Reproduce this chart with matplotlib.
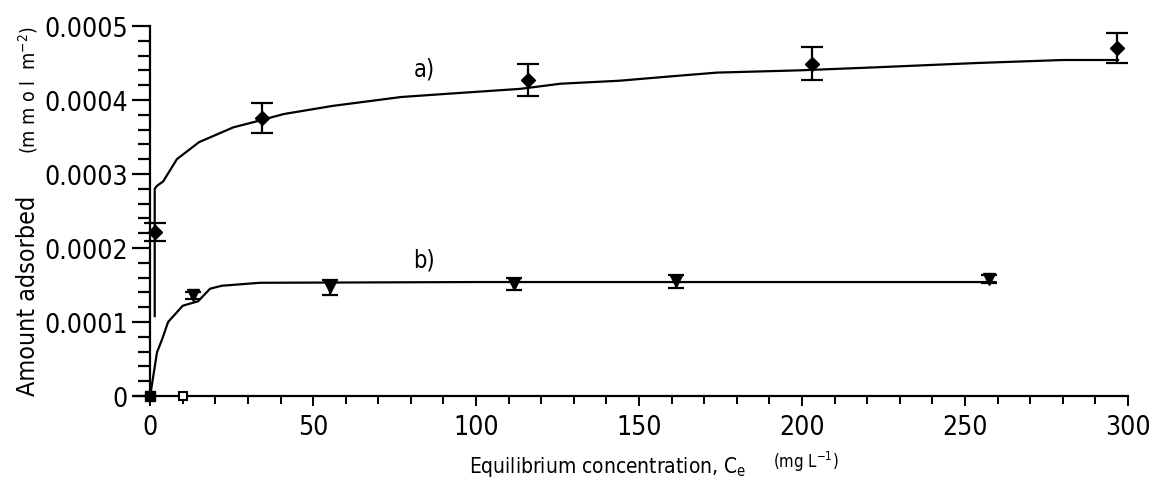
import matplotlib
matplotlib.use('Agg')
import matplotlib.pyplot as plt
from matplotlib.ticker import MultipleLocator, FixedLocator

# narrow face if the system has one, else plain sans
plt.rcParams['font.family'] = ['DejaVu Sans', 'Liberation Sans']
plt.rcParams['font.stretch'] = 'condensed'
plt.rcParams['mathtext.fontset'] = 'custom'
plt.rcParams['mathtext.rm'] = 'DejaVu Sans:stretch=condensed'

# measured points, series a)
a_c = [1.5, 34.4, 116, 203, 296.6]
a_q = [0.000222, 0.000376, 0.000427, 0.000449, 0.000470]
a_err = [0.000012, 0.000020, 0.000022, 0.000022, 0.000020]

# measured points, series b)
b_c = [13.2, 55.2, 111.7, 161.4, 257.3]
b_q = [0.000136, 0.000147, 0.000151, 0.000155, 0.000158]
b_err = [0.000005, 0.000010, 0.000008, 0.000009, 0.000005]

# fitted curves
a_fit_c = [1.4, 1.4, 2.1, 4, 8.2, 15, 25.5, 31.7, 41, 56, 77, 90, 113.5, 126, 144, 160, 174, 199, 222, 254, 280, 297]
a_fit_q = [0.000108, 0.000280, 0.000284, 0.000290, 0.000320, 0.000343, 0.000363, 0.000370, 0.000381,
           0.000392, 0.000404, 0.000408, 0.000415, 0.000422, 0.000426, 0.000432, 0.000437, 0.000440,
           0.000444, 0.000450, 0.000454, 0.000454]
b_fit_c = [0, 2.1, 3.7, 5.5, 10, 14.7, 18.4, 22, 33.7, 100, 180, 259.4]
b_fit_q = [0, 0.000059, 0.000077, 0.000100, 0.000122, 0.000128, 0.000145, 0.000149, 0.000153,
           0.000154, 0.000154, 0.000154]

# extra points on the baseline
origin_c, origin_q = [0], [0]
open_c, open_q = [10], [0]

yticks = [0, 0.0001, 0.0002, 0.0003, 0.0004, 0.0005]
ylabels = ['0', '0.0001', '0.0002', '0.0003', '0.0004', '0.0005']
xticks = [0, 50, 100, 150, 200, 250, 300]

fig = plt.figure(figsize=(11.51, 4.85), dpi=100, facecolor='white')
ax = fig.add_axes([0.1163, 0.1814, 0.8636, 0.7630])

ax.plot(a_fit_c, a_fit_q, color='black', lw=1.6)
ax.plot(b_fit_c, b_fit_q, color='black', lw=1.6)
ax.errorbar(a_c, a_q, yerr=a_err, fmt='D', color='black', ms=7, capsize=8, elinewidth=1.6, capthick=1.6)
ax.errorbar(b_c, b_q, yerr=b_err, fmt='v', color='black', ms=8, capsize=6, elinewidth=1.6, capthick=1.6)
ax.plot(origin_c, origin_q, 's', color='black', ms=7, clip_on=False, zorder=5)
ax.plot(open_c, open_q, 's', mfc='white', mec='black', mew=1.5, ms=6, clip_on=False, zorder=5)

ax.text(84, 0.000442, 'a)', fontsize=17, ha='center', va='center')
ax.text(84, 0.000185, 'b)', fontsize=17, ha='center', va='center')

ax.set_xlim(-5, 300)
ax.set_ylim(0, 0.0005)
ax.spines['left'].set_position(('data', 0))
ax.spines['top'].set_visible(False)
ax.spines['right'].set_visible(False)
ax.spines['left'].set_linewidth(1.6)
ax.spines['bottom'].set_linewidth(1.6)

ax.yaxis.set_major_locator(FixedLocator(yticks))
ax.set_yticklabels(ylabels)
ax.yaxis.set_minor_locator(MultipleLocator(0.00002))
ax.xaxis.set_major_locator(FixedLocator(xticks))
ax.xaxis.set_minor_locator(MultipleLocator(10))
ax.tick_params(axis='y', which='major', direction='out', length=13, width=1.6, labelsize=19, pad=3)
ax.tick_params(axis='y', which='minor', direction='out', length=9, width=1.6)
ax.tick_params(axis='x', which='major', direction='out', length=7, width=1.4, labelsize=19, pad=6)
ax.tick_params(axis='x', which='minor', direction='out', length=6, width=1.4)

fig.text(0.528, 0.038, 'Equilibrium concentration, C$_\\mathrm{e}$', fontsize=15, ha='center', va='center')
fig.text(0.70, 0.048, '(mg L$^{-1}$)', fontsize=12, ha='center', va='center')
fig.text(0.024, 0.39, 'Amount adsorbed', fontsize=18, rotation=90, ha='center', va='center')
fig.text(0.024, 0.815, '(m m o l  m$^{-2}$)', fontsize=14, rotation=90, ha='center', va='center')

fig.savefig('out.png', dpi=100, facecolor='white')
